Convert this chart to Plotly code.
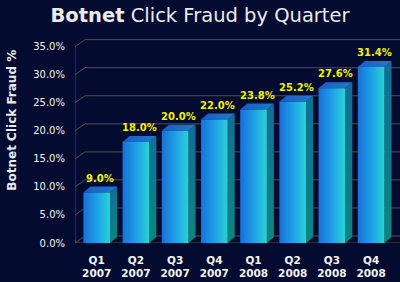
import plotly.graph_objects as go

quarters = ["Q1<br>2007", "Q2<br>2007", "Q3<br>2007", "Q4<br>2007",
            "Q1<br>2008", "Q2<br>2008", "Q3<br>2008", "Q4<br>2008"]
fraud_pct = [9.0, 18.0, 20.0, 22.0, 23.8, 25.2, 27.6, 31.4]
y_ticks = [0, 5, 10, 15, 20, 25, 30, 35]
y_tick_labels = ["0.0%", "5.0%", "10.0%", "15.0%", "20.0%", "25.0%", "30.0%", "35.0%"]

BG = "#040b30"
GRID = "#55513a"
X0, X1 = -0.554, 7.737
Y0, Y1 = 0, 36.55
HW = 0.34          # half width of front face
DX, DY = 0.18, 1.07  # bar depth offset
GDX, GDY = 0.255, 1.25  # wall depth offset

fig = go.Figure()

# gridlines (front edge -> diagonal -> back wall)
gx, gy = [], []
for v in y_ticks:
    gx += [X0, X0 + GDX, X1, None]
    gy += [v, v + GDY, v + GDY, None]
gx += [X0, X0, None, X0, X1]
gy += [0, 35, None, 0, 0]
fig.add_trace(go.Scatter(x=gx, y=gy, mode="lines", line=dict(color=GRID, width=1),
                         hoverinfo="skip", showlegend=False))

for i, v in enumerate(fraud_pct):
    xl, xr = i - HW, i + HW
    # side face
    fig.add_trace(go.Scatter(
        x=[xr, xr + DX, xr + DX, xr, xr], y=[0, DY, v + DY, v, 0],
        fill="toself", mode="lines", line=dict(width=0),
        fillgradient=dict(type="vertical", colorscale=[[0, "#0c8680"], [1, "#106e96"]]),
        hoverinfo="skip", showlegend=False))
    # top face
    fig.add_trace(go.Scatter(
        x=[xl, xr, xr + DX, xl + DX, xl], y=[v, v, v + DY, v + DY, v],
        fill="toself", mode="lines", line=dict(width=0),
        fillgradient=dict(type="horizontal", colorscale=[[0, "#1a5cc2"], [1, "#1e7ad0"]]),
        hoverinfo="skip", showlegend=False))
    # front face
    fig.add_trace(go.Scatter(
        x=[xl, xr, xr, xl, xl], y=[0, 0, v, v, 0],
        fill="toself", mode="lines", line=dict(width=0),
        fillgradient=dict(type="horizontal",
                          colorscale=[[0, "#1970d8"], [0.55, "#1ea4e8"], [1, "#2ad2d4"]]),
        hoverinfo="skip", showlegend=False))
    fig.add_annotation(x=i + DX / 2, y=v + DY, text=f"<b>{v:.1f}%</b>", showarrow=False,
                       yanchor="bottom", yshift=1,
                       font=dict(family="DejaVu Sans", size=10, color="#f2f200"))

fig.add_annotation(text="<b>Botnet Click Fraud %</b>", textangle=-90, showarrow=False,
                   xref="paper", yref="paper", x=-0.195, y=0.6, xanchor="center", yanchor="middle",
                   font=dict(family="DejaVu Sans", size=12, color="#ececec"))

fig.update_layout(
    width=400, height=282,
    margin=dict(l=75, r=0, t=38, b=39),
    paper_bgcolor=BG, plot_bgcolor=BG,
    title=dict(text="<b>Botnet</b> Click Fraud by Quarter", x=0.5, xanchor="center",
               y=0.945, yanchor="middle",
               font=dict(family="DejaVu Sans", size=19.5, color="#ececec")),
    xaxis=dict(range=[X0, X1], tickvals=list(range(len(quarters))), ticktext=quarters,
               showgrid=False, zeroline=False, showline=False, ticks="",
               ticklabelstandoff=9,
               tickfont=dict(family="DejaVu Sans", size=10.5, color="#f4f4f4", weight="bold"),
               fixedrange=True),
    yaxis=dict(range=[Y0, Y1], tickvals=y_ticks, ticktext=y_tick_labels,
               showgrid=False, zeroline=False, showline=False, ticks="",
               ticklabelstandoff=9,
               tickfont=dict(family="DejaVu Sans", size=10, color="#f4f4f4"),
               fixedrange=True),
    showlegend=False,
)

fig.write_html("out.html")
